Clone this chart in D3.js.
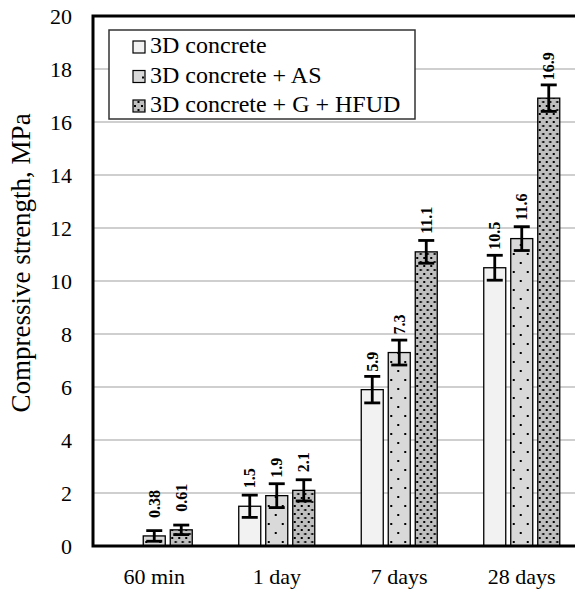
<!DOCTYPE html>
<html>
<head>
<meta charset="utf-8">
<script src="https://cdn.jsdelivr.net/npm/d3@7"></script>
<style>
  body { margin: 0; background: #fff; }
  svg { display: block; }
  svg text { font-family: "Liberation Serif", "Times New Roman", serif; fill: #000; }
</style>
</head>
<body>
<div id="chart"></div>
<script>
const categories = ["60 min", "1 day", "7 days", "28 days"];
const seriesNames = ["3D concrete", "3D concrete + AS", "3D concrete + G + HFUD"];
// compressive strength, MPa (null = not tested)
const plain = [null, 1.5, 5.9, 10.5];
const withAS = [0.38, 1.9, 7.3, 11.6];
const withGH = [0.61, 2.1, 11.1, 16.9];
// error bar half widths
const errPlain = [null, 0.42, 0.5, 0.47];
const errAS = [0.2, 0.45, 0.47, 0.45];
const errGH = [0.18, 0.4, 0.43, 0.5];
const yTicks = [0, 2, 4, 6, 8, 10, 12, 14, 16, 18, 20];

const width = 575, height = 591;
const margin = { top: 16, right: -8, bottom: 45, left: 93 };
const innerWidth = width - margin.left - margin.right;
const innerHeight = height - margin.top - margin.bottom;
const serif = "Liberation Serif";

const svg = d3.select("#chart").append("svg")
  .attr("width", width)
  .attr("height", height);

// fill patterns
const defs = svg.append("defs");
const sparse = defs.append("pattern")
  .attr("id", "dotsSparse").attr("patternUnits", "userSpaceOnUse")
  .attr("width", 14).attr("height", 18);
sparse.append("rect").attr("width", 14).attr("height", 18).attr("fill", "#d9d9d9");
sparse.append("rect").attr("x", 2).attr("y", 3).attr("width", 2).attr("height", 2).attr("fill", "#000");
sparse.append("rect").attr("x", 9).attr("y", 12).attr("width", 2).attr("height", 2).attr("fill", "#000");

const dense = defs.append("pattern")
  .attr("id", "dotsDense").attr("patternUnits", "userSpaceOnUse")
  .attr("width", 7).attr("height", 8);
dense.append("rect").attr("width", 7).attr("height", 8).attr("fill", "#bfbfbf");
dense.append("rect").attr("x", 1).attr("y", 1).attr("width", 2).attr("height", 2).attr("fill", "#000");
dense.append("rect").attr("x", 4.5).attr("y", 5).attr("width", 2).attr("height", 2).attr("fill", "#000");

const fills = ["#f2f2f2", "url(#dotsSparse)", "url(#dotsDense)"];

const series = [
  { name: seriesNames[0], values: plain, errs: errPlain },
  { name: seriesNames[1], values: withAS, errs: errAS },
  { name: seriesNames[2], values: withGH, errs: errGH }
];

const g = svg.append("g")
  .attr("transform", `translate(${margin.left},${margin.top})`);

const x0 = d3.scaleBand().domain(categories).range([0, innerWidth]);
const x1 = d3.scaleBand().domain(d3.range(series.length))
  .range([x0.bandwidth() / 2 - 40.5, x0.bandwidth() / 2 + 40.5])
  .paddingInner(5 / 27).paddingOuter(2.5 / 27);

const y = d3.scaleLinear().domain([0, 20]).range([innerHeight, 0]);

// gridlines
g.append("g")
  .selectAll("line")
  .data(yTicks.filter(t => t > 0 && t < 20))
  .join("line")
  .attr("x1", 0).attr("x2", innerWidth)
  .attr("y1", d => y(d)).attr("y2", d => y(d))
  .attr("stroke", "#bfbfbf").attr("stroke-width", 1.5);

// y axis labels
const yAxis = d3.axisLeft(y).tickValues(yTicks).tickSize(0).tickPadding(21);
const yAxisG = g.append("g").call(yAxis).attr("font-family", serif).attr("font-size", 22);
yAxisG.select(".domain").remove();

// x axis labels
const xAxis = d3.axisBottom(x0).tickSize(0).tickPadding(22);
const xAxisG = g.append("g").attr("transform", `translate(0,${innerHeight})`)
  .call(xAxis).attr("font-family", serif).attr("font-size", 22);
xAxisG.select(".domain").remove();

// bars
const rows = [];
series.forEach((s, si) => {
  categories.forEach((c, ci) => {
    if (s.values[ci] != null) rows.push({ si, c, v: s.values[ci], e: s.errs[ci] });
  });
});

const barG = g.selectAll(".bar")
  .data(rows)
  .join("g")
  .attr("class", "bar")
  .attr("transform", d => `translate(${x0(d.c) + x1(d.si)},0)`);

barG.append("rect")
  .attr("x", 0)
  .attr("width", x1.bandwidth())
  .attr("y", d => y(d.v))
  .attr("height", d => y(0) - y(d.v))
  .attr("fill", d => fills[d.si])
  .attr("stroke", "#000")
  .attr("stroke-width", 1.3);

// error bars
const cx = x1.bandwidth() / 2;
barG.append("line")
  .attr("x1", cx).attr("x2", cx)
  .attr("y1", d => y(d.v + d.e)).attr("y2", d => y(d.v - d.e))
  .attr("stroke", "#000").attr("stroke-width", 2.8);
barG.selectAll(".cap")
  .data(d => [d.v + d.e, d.v - d.e])
  .join("line")
  .attr("x1", cx - 8).attr("x2", cx + 8)
  .attr("y1", d => y(d)).attr("y2", d => y(d))
  .attr("stroke", "#000").attr("stroke-width", 2.8);

// value labels
barG.append("text")
  .attr("transform", d => `translate(${cx + 5.5},${y(d.v) - 18}) rotate(-90)`)
  .attr("text-anchor", "start")
  .attr("font-family", serif)
  .attr("font-size", 16)
  .attr("font-weight", "bold")
  .text(d => d.v);

// frame: left, top, bottom
g.append("path")
  .attr("d", `M${innerWidth},0H0V${innerHeight}H${innerWidth}`)
  .attr("fill", "none")
  .attr("stroke", "#000")
  .attr("stroke-width", 3);

// y axis title
svg.append("text")
  .attr("transform", `translate(30,${margin.top + innerHeight / 2 - 18}) rotate(-90)`)
  .attr("text-anchor", "middle")
  .attr("font-family", serif)
  .attr("font-size", 27)
  .text("Compressive strength, MPa");

// legend
const legend = svg.append("g").attr("transform", "translate(109,30)");
legend.append("rect")
  .attr("width", 306).attr("height", 89)
  .attr("fill", "#fff")
  .attr("stroke", "#333")
  .attr("stroke-width", 1.5);

seriesNames.forEach((name, i) => {
  const item = legend.append("g").attr("transform", `translate(24,${23 + i * 29.5})`);
  item.append("rect")
    .attr("x", 0).attr("y", -12)
    .attr("width", 12).attr("height", 12)
    .attr("fill", fills[i])
    .attr("stroke", "#000")
    .attr("stroke-width", 1.2);
  item.append("text")
    .attr("x", 17).attr("y", 0)
    .attr("font-family", serif)
    .attr("font-size", 24)
    .text(name);
});
</script>
</body>
</html>
